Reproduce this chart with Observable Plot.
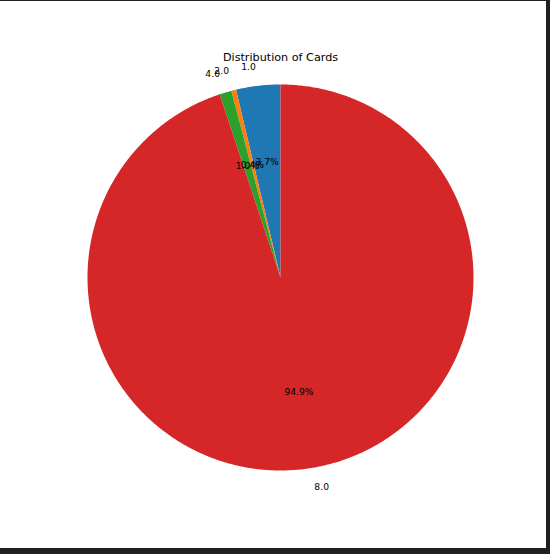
<!DOCTYPE html>
<html>
<head>
<meta charset="utf-8">
<script src="https://cdn.jsdelivr.net/npm/d3@7"></script>
<script src="https://cdn.jsdelivr.net/npm/@observablehq/plot@0.6"></script>
<style>
  html, body { margin: 0; padding: 0; background: #1f2023; width: 550px; height: 554px; overflow: hidden; }
  #chart { position: absolute; left: 0; top: 1px; width: 546px; height: 547px; background: #fff; }
  #chart svg { display: block; }
</style>
</head>
<body>
<div id="chart"></div>
<script>
const title = "Distribution of Cards";
const categories = ["1.0", "2.0", "4.0", "8.0"];
const shares = [3.7, 0.4, 1.0, 94.9];
const colors = ["#1f77b4", "#ff7f0e", "#2ca02c", "#d62728"];

const total = d3.sum(shares);
let acc = 0;
const slices = categories.map((c, i) => {
  const a0 = acc / total * 2 * Math.PI;
  acc += shares[i];
  const a1 = acc / total * 2 * Math.PI;
  return {category: c, share: shares[i], a0, a1, mid: (a0 + a1) / 2};
});

// polygon points (angle measured counter-clockwise from the top)
const pts = [];
for (const s of slices) {
  pts.push({category: s.category, x: 0, y: 0});
  const n = Math.max(4, Math.ceil((s.a1 - s.a0) / (Math.PI / 360)));
  for (let k = 0; k <= n; k++) {
    const t = s.a0 + (s.a1 - s.a0) * k / n;
    pts.push({category: s.category, x: -Math.sin(t), y: Math.cos(t)});
  }
}

const outer = slices.map(s => ({
  label: s.category,
  x: -Math.sin(s.mid) * 1.1,
  y: Math.cos(s.mid) * 1.1,
  anchor: -Math.sin(s.mid) < 0 ? "end" : "start"
}));
const inner = slices.map(s => ({
  label: (s.share / total * 100).toFixed(1) + "%",
  x: -Math.sin(s.mid) * 0.6,
  y: Math.cos(s.mid) * 0.6
}));

const W = 546, H = 547, cx = 280, cy = 276, R = 193;

const chart = Plot.plot({
  width: W,
  height: H,
  margin: 0,
  style: {background: "#fff", fontFamily: "DejaVu Sans, sans-serif"},
  x: {domain: [-cx / R, (W - cx) / R], axis: null},
  y: {domain: [-(H - cy) / R, cy / R], axis: null},
  color: {domain: categories, range: colors},
  marks: [
    Plot.line(pts, {x: "x", y: "y", z: "category", fill: "category", stroke: "none", curve: "linear-closed"}),
    Plot.text(outer.filter(d => d.anchor === "end"), {x: "x", y: "y", text: "label", textAnchor: "end", fontSize: 9.2, fill: "#000"}),
    Plot.text(outer.filter(d => d.anchor === "start"), {x: "x", y: "y", text: "label", textAnchor: "start", fontSize: 9.2, fill: "#000"}),
    Plot.text(inner, {x: "x", y: "y", text: "label", textAnchor: "middle", fontSize: 9.2, fill: "#000"}),
    Plot.text([title], {x: () => 0, y: () => (cy - 56) / R, fontSize: 11.2, fill: "#000"})
  ]
});
document.getElementById("chart").appendChild(chart);
</script>
</body>
</html>
